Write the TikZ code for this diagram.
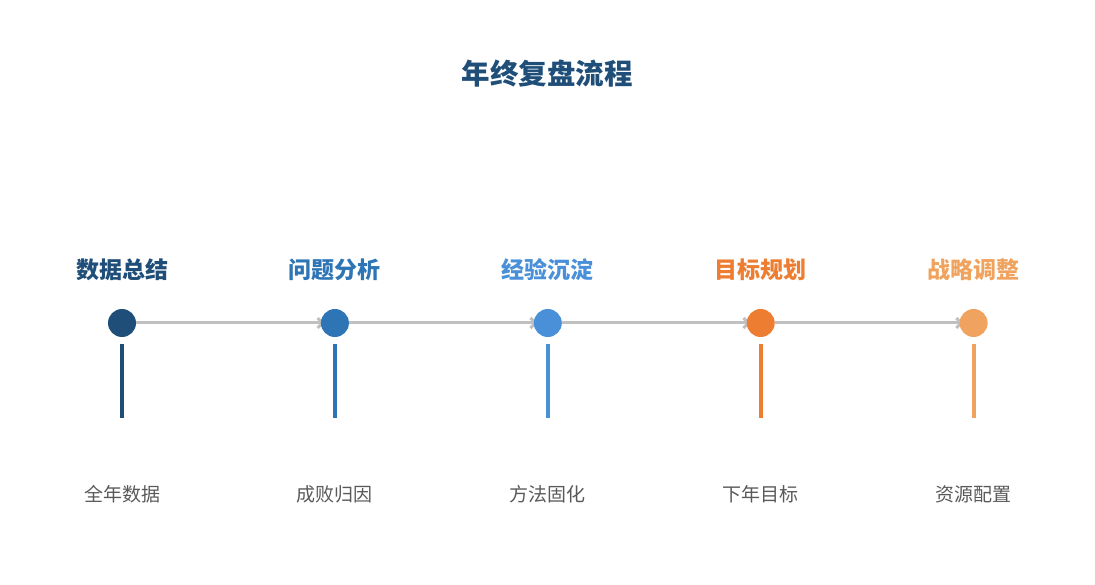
\documentclass[tikz,border=0pt]{standalone}
\usepackage{fontspec}
\setmainfont{Noto Sans CJK SC}
\usepackage{tikz}
\usetikzlibrary{
        positioning,
        backgrounds,
        arrows.meta
    }
\definecolor{darkblue}{HTML}{1F4E79}
\definecolor{midblue}{HTML}{2E75B6}
\definecolor{lightblue}{HTML}{4A90D9}
\definecolor{deeporange}{HTML}{ED7D31}
\definecolor{sandorange}{HTML}{F0A35E}
\definecolor{linegray}{HTML}{C0C0C0}
\definecolor{textgray}{HTML}{595959}

\begin{document}
\begin{tikzpicture}
[dot/.style={circle, minimum size=28pt, inner sep=0pt},
steptitle/.style={inner sep=0pt, font=\fontsize{23}{25}\selectfont\bfseries},
stepnote/.style={inner sep=0pt, text=textgray, font=\fontsize{19}{21}\selectfont},
bar/.style={line width=4pt},
arrow/.style={line width=3pt, draw=linegray, shorten >=-4pt, -{Straight Barb[length=5pt, width=10pt]}},
node distance=184.5pt,]
    \useasboundingbox (0,0) rectangle (1095pt,-585pt);
    \node (title) [text=darkblue, font=\fontsize{28.5}{30}\selectfont\bfseries] at (547pt,-74pt) {年终复盘流程};
    % the five stages
    \node (dot1) [dot, fill=darkblue] at (122pt,-323pt) {};
    \node (dot2) [dot, fill=midblue, right=of dot1] {};
    \node (dot3) [dot, fill=lightblue, right=of dot2] {};
    \node (dot4) [dot, fill=deeporange, right=of dot3] {};
    \node (dot5) [dot, fill=sandorange, right=of dot4] {};
    \node (name1) [steptitle, text=darkblue, above=42pt of dot1.center] {数据总结};
    \node (name2) [steptitle, text=midblue, above=42pt of dot2.center] {问题分析};
    \node (name3) [steptitle, text=lightblue, above=42pt of dot3.center] {经验沉淀};
    \node (name4) [steptitle, text=deeporange, above=42pt of dot4.center] {目标规划};
    \node (name5) [steptitle, text=sandorange, above=42pt of dot5.center] {战略调整};
    \node (note1) [stepnote, below=162pt of dot1.center] {全年数据};
    \node (note2) [stepnote, below=162pt of dot2.center] {成败归因};
    \node (note3) [stepnote, below=162pt of dot3.center] {方法固化};
    \node (note4) [stepnote, below=162pt of dot4.center] {下年目标};
    \node (note5) [stepnote, below=162pt of dot5.center] {资源配置};
    % bars under the dots
    \coordinate (top1) at ([yshift=-21pt]dot1.center); \coordinate (end1) at ([yshift=-95pt]dot1.center);
    \coordinate (top2) at ([yshift=-21pt]dot2.center); \coordinate (end2) at ([yshift=-95pt]dot2.center);
    \coordinate (top3) at ([yshift=-21pt]dot3.center); \coordinate (end3) at ([yshift=-95pt]dot3.center);
    \coordinate (top4) at ([yshift=-21pt]dot4.center); \coordinate (end4) at ([yshift=-95pt]dot4.center);
    \coordinate (top5) at ([yshift=-21pt]dot5.center); \coordinate (end5) at ([yshift=-95pt]dot5.center);
    \draw[bar, darkblue] (top1) -- (end1);
    \draw[bar, midblue] (top2) -- (end2);
    \draw[bar, lightblue] (top3) -- (end3);
    \draw[bar, deeporange] (top4) -- (end4);
    \draw[bar, sandorange] (top5) -- (end5);
    \begin{scope}[on background layer]
    \draw[arrow] (dot1) -- (dot2);
    \draw[arrow] (dot2) -- (dot3);
    \draw[arrow] (dot3) -- (dot4);
    \draw[arrow] (dot4) -- (dot5);
    \end{scope}
\end{tikzpicture}
\end{document}
